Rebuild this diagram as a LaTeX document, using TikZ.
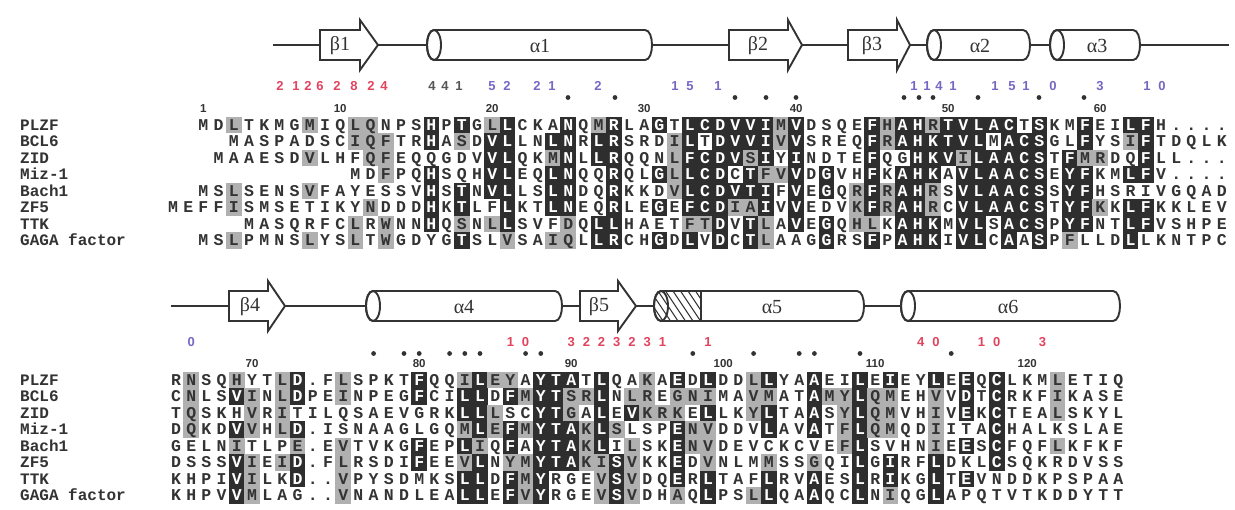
\documentclass[tikz,border=0pt]{standalone}
\usepackage{fontspec}
\newfontfamily\resfont{Liberation Mono}
\newfontfamily\lblfont{Liberation Sans}
\newfontfamily\ssfont{Liberation Serif}
\definecolor{blk}{HTML}{2E2E2E}
\definecolor{gry}{HTML}{B0B0B0}
\definecolor{txt}{HTML}{333333}
\definecolor{redn}{HTML}{E2435E}
\definecolor{purp}{HTML}{7766C4}
\definecolor{dgr}{HTML}{555555}
\tikzset{
  res/.style={font=\resfont\bfseries\fontsize{16.5}{17}\selectfont, inner sep=0pt, anchor=base, text=txt},
  resw/.style={res, text=white},
  seqname/.style={font=\resfont\bfseries\fontsize{16}{16}\selectfont, inner sep=0pt, anchor=base west, text=txt},
  num/.style={font=\lblfont\bfseries\fontsize{11.5}{12}\selectfont, inner sep=0pt, anchor=base, text=txt},
  ann/.style={font=\lblfont\bfseries\fontsize{13}{13}\selectfont, inner sep=0pt, anchor=base},
  ss/.style={draw=txt, line width=1.9pt},
  sslbl/.style={font=\ssfont\fontsize{20}{20}\selectfont, inner sep=0pt, text=txt},
  dotm/.style={fill=txt, draw=none},
}
\def\qstop{}
\newcount\colc
\newif\ifboxpass
\def\halfw{7.75}
\def\halfh{8.35}
\def\drawseq#1#2#3#4{\colc=0 \def\xo{#1}\def\yy{#2}\procA#3\qstop#4\qstop}
\def\procA#1#2\qstop#3#4\qstop{\advance\colc by 1 \drawcell{#1}{#3}\ifx\relax#2\relax\else\procA#2\qstop#4\qstop\fi}
\def\drawcell#1#2{%
  \pgfmathsetmacro\cx{\xo+(\the\colc-1)*15.2}%
  \ifboxpass
    \if b#2\fill[blk] (\cx-\halfw,\yy-\halfh) rectangle (\cx+\halfw,\yy+\halfh);\fi
    \if g#2\fill[gry] (\cx-\halfw,\yy-\halfh) rectangle (\cx+\halfw,\yy+\halfh);\fi
  \else
    \if -#1\else\if b#2\node[resw] at (\cx,\yy+5.4) {#1};\else\node[res] at (\cx,\yy+5.4) {#1};\fi\fi
  \fi}
% cylinder: xL xR yc
\def\cylfill#1#2#3{\fill[white] (#1+7,#3-15) -- (#2-7,#3-15) .. controls (#2+2.333,#3-15) and (#2+2.333,#3+15) .. (#2-7,#3+15) -- (#1+7,#3+15) .. controls (#1-2.333,#3+15) and (#1-2.333,#3-15) .. (#1+7,#3-15) -- cycle;}
\def\cyldraw#1#2#3{\draw[ss] (#1+7,#3-15) -- (#2-7,#3-15) .. controls (#2+2.333,#3-15) and (#2+2.333,#3+15) .. (#2-7,#3+15) -- (#1+7,#3+15) .. controls (#1-2.333,#3+15) and (#1-2.333,#3-15) .. (#1+7,#3-15) -- cycle;
  \draw[ss] (#1+7,#3) ellipse [x radius=7, y radius=15];}
\def\cyl#1#2#3{\cylfill{#1}{#2}{#3}\cyldraw{#1}{#2}{#3}}
% strand: x1 xbase xtip yc
\def\strand#1#2#3#4{\draw[ss,fill=white,line join=miter] (#1,#4-15) -- (#2,#4-15) -- (#2,#4-25) -- (#3,#4) -- (#2,#4+25) -- (#2,#4+15) -- (#1,#4+15) -- cycle;}
\def\topblock{%
\drawseq{173}{125}{--MDLTKMGMIQLQNPSHPTGLLCKANQMRLAGTLCDVVIMVDSQEFHAHRTVLACTSKMFEILFH....}{....g....g..gg...b.b.gb...b.gb..b.bbbbbbgb....bgbbgbbbbb.b..b..bb..........}%
\drawseq{173}{141.5}{----MASPADSCIQFTRHASDVLLNLNRLRSRDILTDVVIVVSREQFRAHKTVLMACSGLFYSIFTDQLK}{............ggg..b.g.bb..bb.bb...gb.bbbbgb....bgbbbbbb.bbb..b..gb..........}%
\drawseq{173}{158}{---MAAESDVLHFQFEQQGDVVLQKMNLLRQQNLFCDVSIYINDTEFQGHKVILAACSTFMRDQFLL....}{.........g...gg......bb..gb.bb...gbbbbgb.b....b..bbbgbbbbb.bgg..b..........}%
\drawseq{173}{174.5}{------------MDFPQHSQHVLEQLNQQRQLGLLCDCTFVVDGVHFKAHKAVLAACSEYFKMLFV....}{..............g..b...bb..bb..b..bgbbb.bggb.b..b.bbb.bbbbbb.bb..bb..........}%
\drawseq{173}{191}{--MSLSENSVFAYESSVHSTNVLLSLNDQRKKDVLCDVTIFVEGQRFRAHRSVLAACSSYFHSRIVGQAD}{....g....g.......b.b.bb..bb..b...gbbbbbb.b.b.gbgbbg.bbbbbb.bb..............}%
\drawseq{173}{207.5}{MEFFISMSETIKYNDDDHKTLFLKTLNEQRLEGEFCDIAIVVEDVKFRAHRCVLAACSTYFKKLFKKLEV}{....g........g...b.b..b..bb..b..b.bbbggb.b...gbgbbg.bbbbbb.bbg.bb..........}%
\drawseq{173}{224}{-----MASQRFCLRWNNHQSNLLSVFDQLLHAETFTDVTLAVEGQHLKAHKMVLSACSPYFNTLFVSHPE}{............g.g..b.g.gb...g.bb....ggb.bg.b.b.gg.bbb.bb.bbb.bb..bb..........}%
\drawseq{173}{240.5}{--MSLPMNSLYSLTWGDYGTSLVSAIQLLRCHGDLVDCTLAAGGRSFPAHKIVLCAASPFLLDLLKNTPC}{....g....g..g.g....b..g..gg.bb..b.b.b.bg...b..b.bbb.bb.b.b.g...b...........}}
\def\botblock{%
\drawseq{176}{380}{RNSQHYTLD.FLSPKTFQQILEYAYTATLQAKAEDLDDLLYAAEILEIEYLEEQCLKMLETIQ}{.g..g..gb..g....b..gbgg.bbb.b..g.b.b..gb..b..b.b..b.b.b...g...........}%
\drawseq{176}{396.5}{CNLSVINLDPEINPEGFCILLDFMYTSRLNLREGNIMAVMATAMYLQMEHVVDTCRKFIKASE}{.g..bg.gb..g....b..bb.bgbbggb.gg.ggg..gg..bggbgg..g.b.b...g...........}%
\drawseq{176}{413}{TQSKHVRITILQSAEVGRKLLLSCYTGALEVKRKELLKYLTAASYLQMVHIVEKCTEALSKYL}{.g...g.g...........bbg..bbg.b.bggg.b..gb..b.gbgg..g.b.b...g...........}%
\drawseq{176}{429.5}{DQKDVVHLD.ISNAAGLGQMLEFMYTAKLSLSPENVDDVLAVATFLQMQDIITACHALKSLAE}{.g..bg.gb..........gbgbgbbbgbg...bgg...b..b.gbgg..g...b.............}%
\drawseq{176}{446}{GELNITLPE.EVTVKGFEPLIQFAYTAKLILSKENVDEVCKCVEFLSVHNIEESCFQFLKFKF}{....g...g..g....b..bg.b.bbbgb.g..bgg........gb....g.b.b...g...........}%
\drawseq{176}{462.5}{DSSSVIEID.FLRSDIFEEVLNYMYTAKISVKKEDVNLMMSSGQILGIRFLDKLCSQKRDVSS}{....bg.gb..g....b..gb.ggbbbggbg..b.g...g..g..b.b..b...b.............}%
\drawseq{176}{479}{KHPIVILKD..VPYSDMKSLLDFMYRGEVSVDQERLTAFLRVAESLRIKGLTEVNDDKPSPAA}{....bg..b..g.......bb.bgb...gbg..b.b...b..b..b.b..b.b...................}%
\drawseq{176}{495.5}{KHPVVMLAG..VNANDLEALLEFVYRGEVSVDHAQLPSLLQAAQCLNIQGLAPQTVTKDDYTT}{....bg.....g.......bb.bgb...gbg..g.b..gb..b..b.g..b.....................}}
\begin{document}
\begin{tikzpicture}[x=1pt,y=-1pt]
\useasboundingbox[fill=white] (0,0) rectangle (1235,510);
% ---------- top secondary structure ----------
\draw[ss] (273,45) -- (1229,45);
\strand{320}{360}{378}{45}
\cyl{427}{652}{45}
\strand{729}{788}{802}{45}
\strand{848}{897}{910}{45}
\cyl{927}{1030}{45}
\cyl{1050}{1140}{45}
\node[sslbl] (sb1) at (340,46) {β1};
\node[sslbl] (sa1) at (540,46) {α1};
\node[sslbl] (sb2) at (758,46) {β2};
\node[sslbl] (sb3) at (872,46) {β3};
\node[sslbl] (sa2) at (980,46) {α2};
\node[sslbl] (sa3) at (1097,46) {α3};
% ---------- top annotations ----------
\foreach \x/\t in {280/2,296/1,308/2,320/6,337/2,354/8,371/2,384/4}
  \node[ann,text=redn] at (\x,91) {\t};
\foreach \x/\t in {432/4,445/4,459/1}
  \node[ann,text=dgr] at (\x,91) {\t};
\foreach \x/\t in {492/5,507/2,537/2,552/1,598/2,675/1,690/5,718/1,914/1,927/1,939/4,953/1,995/1,1012/5,1026/1,1053/0,1100/3,1147/1,1162/0}
  \node[ann,text=purp] at (\x,91) {\t};
\foreach \x in {568,615,735,766,796,904,919,933,978,1039,1084}
  \fill[dotm] (\x,97.5) circle (2.4);
\foreach \c/\t in {3/1,12/10,22/20,32/30,42/40,52/50,62/60}{
  \pgfmathsetmacro\xx{173+(\c-1)*15.2}
  \node[num] at (\xx,112.5) {\t};}
% ---------- top block ----------
\foreach \n/\y in {PLZF/125,BCL6/141.5,ZID/158,Miz-1/174.5,Bach1/191,ZF5/207.5,TTK/224,GAGA factor/240.5}
  \node[seqname] at (20,\y+5.2) {\n};
\boxpasstrue\topblock
\boxpassfalse\topblock
% ---------- bottom secondary structure ----------
\draw[ss] (171,306) -- (901,306);
\strand{229}{268}{285}{306}
\cyl{366}{562}{306}
\strand{580}{618}{636}{306}
\cylfill{654}{864}{306}
\begin{scope}
  \clip (661,291) -- (701,291) -- (701,321) -- (661,321) .. controls (651.667,321) and (651.667,291) .. (661,291) -- cycle;
  \foreach \k in {0,...,10} \draw[txt,line width=1pt] (628+\k*7.5,291) -- ++(20,30);
\end{scope}
\cyldraw{654}{864}{306}
\draw[ss] (701,291) -- (701,321);
\cyl{901}{1120}{306}
\node[sslbl] (sb4) at (250,307) {β4};
\node[sslbl] (sa4) at (464,307) {α4};
\node[sslbl] (sb5) at (599,307) {β5};
\node[sslbl] (sa5) at (772,307) {α5};
\node[sslbl] (sa6) at (1008,307) {α6};
% ---------- bottom annotations ----------
\foreach \c/\t in {23/1,24/0,27/3,28/2,29/2,30/3,31/2,32/3,33/1,36/1,50/4,51/0,54/1,55/0,58/3}{
  \pgfmathsetmacro\xx{176+(\c-1)*15.2}
  \node[ann,text=redn] at (\xx,347) {\t};}
\pgfmathsetmacro\xx{176+15.2}
\node[ann,text=purp] (z0) at (\xx,347) {0};
\foreach \c in {14,16,17,19,20,21,24,25,35,39,42,43,46,52}{
  \pgfmathsetmacro\xx{176+(\c-1)*15.2}
  \fill[dotm] (\xx,353.5) circle (2.4);}
\foreach \c/\t in {6/70,17/80,27/90,37/100,47/110,57/120}{
  \pgfmathsetmacro\xx{176+(\c-1)*15.2}
  \node[num] at (\xx,367.5) {\t};}
% ---------- bottom block ----------
\foreach \n/\y in {PLZF/380,BCL6/396.5,ZID/413,Miz-1/429.5,Bach1/446,ZF5/462.5,TTK/479,GAGA factor/495.5}
  \node[seqname] at (20,\y+5.2) {\n};
\boxpasstrue\botblock
\boxpassfalse\botblock
\end{tikzpicture}
\end{document}
